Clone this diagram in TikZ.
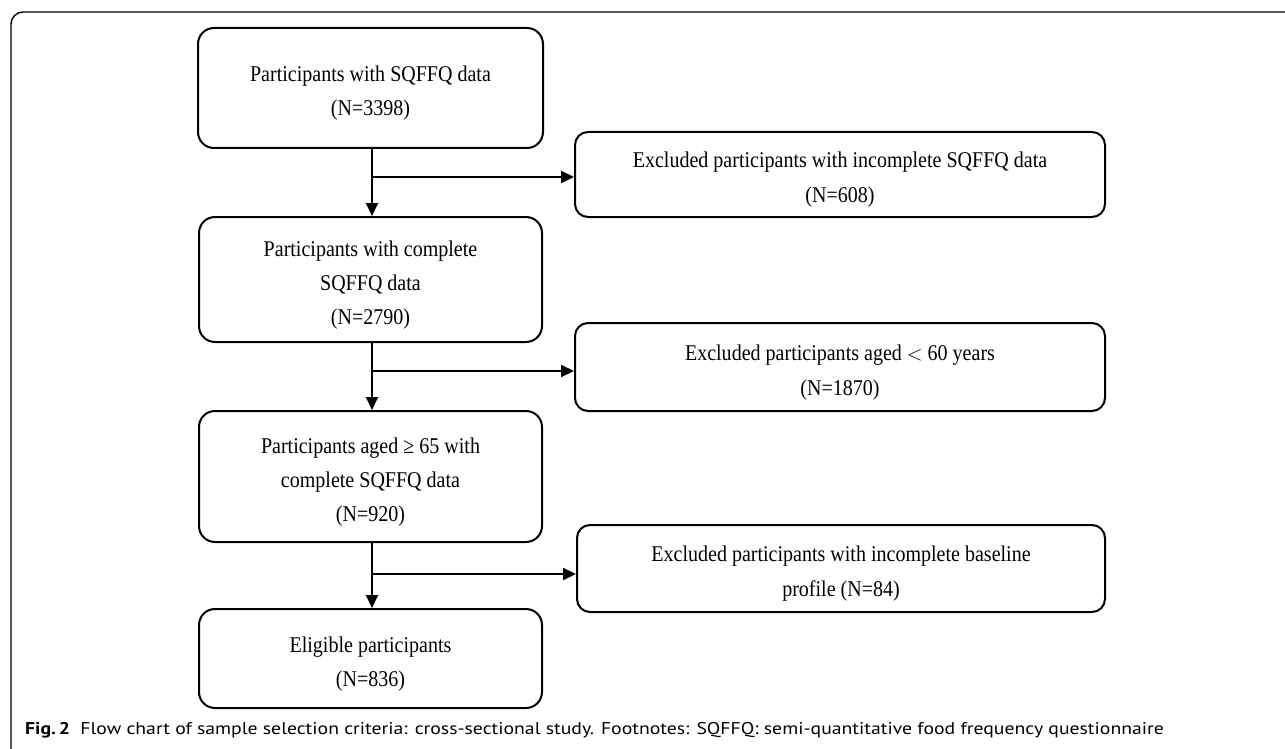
\documentclass[tikz,border=0pt]{standalone}
\usepackage{fontspec}
\setmainfont{Liberation Serif}[FakeStretch=0.89]
\newfontfamily\capfont{PT Sans}[FakeStretch=1.16]
\usetikzlibrary{arrows.meta,calc}
\newcommand{\topgap}{\rule{0pt}{26pt}}
\tikzset{
  boxmain/.style={draw, line width=2pt, rounded corners=16pt, align=center,
    font=\fontsize{22.5}{34}\selectfont, inner sep=0pt},
  boxexcl/.style={draw, line width=2pt, rounded corners=13pt, align=center,
    font=\fontsize{22.5}{35}\selectfont, inner sep=0pt},
  flowarrow/.style={line width=2pt, -{Triangle[length=13pt,width=12pt]}},
  frameline/.style={line width=1.4pt, rounded corners=12pt},
  captext/.style={anchor=west, inner sep=0pt, font=\capfont\fontsize{17}{20}\selectfont}
}
\begin{document}
\begin{tikzpicture}[x=1pt,y=-1pt]
\useasboundingbox (0,0) rectangle (1285,749);
\fill[white] (0,0) rectangle (1285,749);
\begin{scope}
\clip (0,0) rectangle (1285,749);
\draw[frameline] (1300,12) -- (11,12) -- (11,765) -- (40,765);
\end{scope}

\node[boxmain, minimum width=345pt, minimum height=120pt] (b1) at (370.5,88)
  {\topgap Participants with SQFFQ data\\(N=3398)};
\node[boxmain, minimum width=343pt, minimum height=125pt] (b2) at (370.5,279.5)
  {\topgap Participants with complete\\SQFFQ data\\(N=2790)};
\node[boxmain, minimum width=343pt, minimum height=131pt] (b3) at (370.5,476.5)
  {\topgap Participants aged \char"2265\ 65 with\\complete SQFFQ data\\(N=920)};
\node[boxmain, minimum width=343pt, minimum height=99pt] (b4) at (370.5,658.5)
  {\topgap Eligible participants\\(N=836)};

\node[boxexcl, minimum width=530pt, minimum height=85pt] (e1) at (840,174.5)
  {\topgap Excluded participants with incomplete SQFFQ data\\(N=608)};
\node[boxexcl, minimum width=530pt, minimum height=88pt] (e2) at (840,367)
  {\topgap Excluded participants aged $<$ 60 years\\(N=1870)};
\node[boxexcl, minimum width=528pt, minimum height=87pt] (e3) at (841,568.5)
  {\topgap Excluded participants with incomplete baseline\\profile (N=84)};

\coordinate (j1) at (372,177);
\coordinate (j2) at (372,371);
\coordinate (j3) at (372,574);

\draw[flowarrow] (b1.south -| j1) -- (b2.north -| j1);
\draw[flowarrow] (b2.south -| j2) -- (b3.north -| j2);
\draw[flowarrow] (b3.south -| j3) -- (b4.north -| j3);
\draw[flowarrow] (j1) -- (j1 -| e1.west);
\draw[flowarrow] (j2) -- (j2 -| e2.west);
\draw[flowarrow] (j3) -- (j3 -| e3.west);

\node[captext] (cap) at (25,730)
  {\textbf{Fig.\,2}\ \ Flow chart of sample selection criteria: cross-sectional study. Footnotes: SQFFQ: semi-quantitative food frequency questionnaire};
\end{tikzpicture}
\end{document}
